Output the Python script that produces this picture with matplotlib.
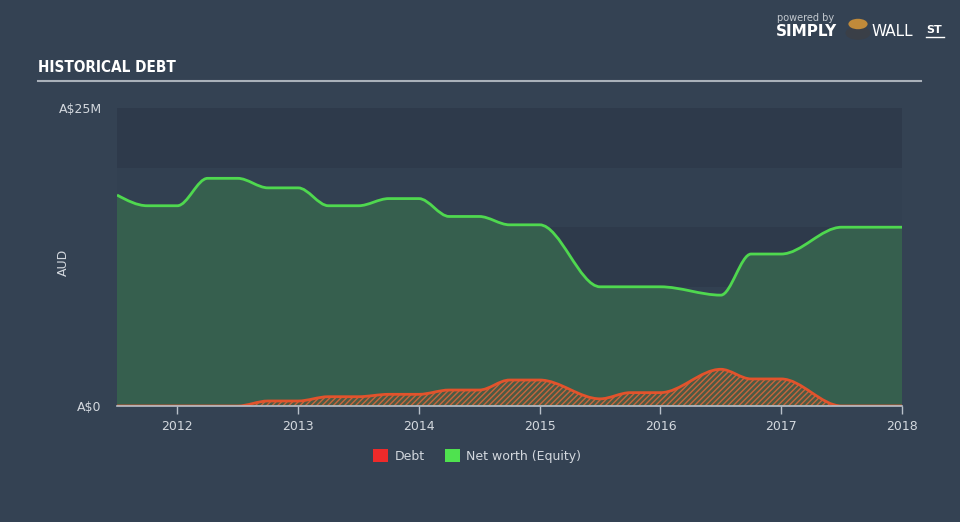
import matplotlib
matplotlib.use("Agg")
import numpy as np
from matplotlib import pyplot as plt
from matplotlib.path import Path
from matplotlib.patches import PathPatch, Patch, Circle

# quarterly points (A$ millions), x in fractional years
dates = [2011.5, 2011.75, 2012.0, 2012.25, 2012.5, 2012.75, 2013.0, 2013.25,
         2013.5, 2013.75, 2014.0, 2014.25, 2014.5, 2014.75, 2015.0, 2015.5,
         2015.75, 2016.0, 2016.5, 2016.75, 2017.0, 2017.5, 2018.0]
net_worth = [17.7, 16.8, 16.8, 19.1, 19.1, 18.3, 18.3, 16.8,
             16.8, 17.4, 17.4, 15.9, 15.9, 15.2, 15.2, 10.0,
             10.0, 10.0, 9.3, 12.75, 12.75, 15.0, 15.0]
debt = [0, 0, 0, 0, 0, 0.42, 0.42, 0.78,
        0.78, 0.98, 0.98, 1.34, 1.34, 2.18, 2.18, 0.6,
        1.12, 1.12, 3.08, 2.27, 2.27, 0, 0]
year_ticks = [2012, 2013, 2014, 2015, 2016, 2017, 2018]

BG = '#344253'
TXT = '#d3d8de'


def monotone_path(xs, ys, close_to=None):
    # same bezier segments a monotoneX curve uses
    xs = np.asarray(xs, float)
    ys = np.asarray(ys, float)
    n = len(xs)
    h = np.diff(xs)
    s = np.diff(ys) / h
    t = np.zeros(n)
    for i in range(1, n - 1):
        p = (s[i - 1] * h[i] + s[i] * h[i - 1]) / (h[i - 1] + h[i])
        t[i] = (np.sign(s[i - 1]) + np.sign(s[i])) * min(abs(s[i - 1]), abs(s[i]), 0.5 * abs(p))
    t[0] = (3 * s[0] - t[1]) / 2
    t[-1] = (3 * s[-1] - t[-2]) / 2
    verts = [(xs[0], ys[0])]
    codes = [Path.MOVETO]
    for i in range(n - 1):
        dx = h[i] / 3
        verts += [(xs[i] + dx, ys[i] + dx * t[i]),
                  (xs[i + 1] - dx, ys[i + 1] - dx * t[i + 1]),
                  (xs[i + 1], ys[i + 1])]
        codes += [Path.CURVE4] * 3
    if close_to is not None:
        verts += [(xs[-1], close_to), (xs[0], close_to), (xs[0], ys[0])]
        codes += [Path.LINETO, Path.LINETO, Path.CLOSEPOLY]
    return Path(verts, codes)


plt.rcParams['hatch.linewidth'] = 1.0
fig = plt.figure(figsize=(9.6, 5.22), dpi=100)
fig.patch.set_facecolor(BG)
ax = fig.add_axes([117 / 960, 1 - 406 / 522, 785 / 960, 298 / 522])
ax.set_facecolor('#303d4e')
ax.set_xlim(dates[0], dates[-1])
ax.set_ylim(0, 25)

# faint horizontal bands, alternating from the top
band_cols = ['#2e3a4b', '#324051', '#2e3a4b', '#324051', '#2e3a4b']
for k, c in enumerate(band_cols):
    ax.axhspan(k * 5, k * 5 + 5, color=c, lw=0, zorder=0)

# net worth area + line
ax.add_patch(PathPatch(monotone_path(dates, net_worth, close_to=0),
                       facecolor='#365f4e', edgecolor='none', zorder=1))
ax.add_patch(PathPatch(monotone_path(dates, net_worth), facecolor='none',
                       edgecolor='#4fd84f', lw=2, zorder=3))

# debt hatched area + line
ax.add_patch(PathPatch(monotone_path(dates, debt, close_to=0),
                       facecolor='#4c5a44', edgecolor='#c8653c', lw=0,
                       hatch='//////', zorder=2))
ax.add_patch(PathPatch(monotone_path(dates, debt), facecolor='none',
                       edgecolor='#e2532c', lw=2, zorder=4))

for sp in ['top', 'right', 'left']:
    ax.spines[sp].set_visible(False)
ax.spines['bottom'].set_color('#b8c0c9')
ax.spines['bottom'].set_linewidth(1.2)
ax.spines['bottom'].set_zorder(5)

ax.set_xticks(year_ticks)
ax.set_xticklabels([str(y) for y in year_ticks])
ax.set_yticks([0, 25])
ax.set_yticklabels(['A$0', 'A$25M'])
ax.tick_params(axis='x', colors='#b8c0c9', length=6, width=1, labelsize=9,
               labelcolor=TXT, pad=4)
ax.tick_params(axis='y', length=0, labelsize=9, labelcolor=TXT, pad=11)
fig.text(63 / 960, 1 - 262 / 522, 'AUD', color=TXT, fontsize=9, rotation=90,
         va='center', ha='center')

# title and rule
fig.text(38 / 960, 1 - 68 / 522, 'HISTORICAL DEBT', color='white', fontsize=11,
         fontweight='bold', family='DejaVu Sans', fontstretch='condensed',
         va='center', ha='left')
fig.add_artist(plt.Line2D([38 / 960, 921 / 960], [1 - 81 / 522, 1 - 81 / 522],
                          color='#a9b1ba', lw=1.5))

# logo
fig.text(777 / 960, 1 - 18 / 522, 'powered by', color='#c3c9cf', fontsize=7,
         va='center', ha='left')
fig.text(776 / 960, 1 - 31 / 522, 'SIMPLY', color='white', fontsize=11,
         fontweight='bold', va='center', ha='left')
fig.add_artist(Circle((858 / 960, 1 - 33 / 522), 0.013, transform=fig.transFigure,
                      facecolor='#3a3f47', edgecolor='none'))
fig.add_artist(Circle((858 / 960, 1 - 24 / 522), 0.010, transform=fig.transFigure,
                      facecolor='#c08a3a', edgecolor='none'))
fig.text(872 / 960, 1 - 31 / 522, 'WALL', color='white', fontsize=11,
         va='center', ha='left')
fig.text(926 / 960, 1 - 30 / 522, 'ST', color='white', fontsize=8,
         fontweight='bold', va='center', ha='left')
fig.add_artist(plt.Line2D([926 / 960, 944 / 960], [1 - 37 / 522, 1 - 37 / 522],
                          color='white', lw=1))

# legend
handles = [Patch(facecolor='#ee2a2a', edgecolor='none', label='Debt'),
           Patch(facecolor='#4fe24f', edgecolor='none', label='Net worth (Equity)')]
leg = fig.legend(handles=handles, loc='center', bbox_to_anchor=(477 / 960, 1 - 456 / 522),
                 ncol=2, frameon=False, fontsize=9, handlelength=1.2, handleheight=1.2,
                 handletextpad=0.5, columnspacing=1.6)
for t in leg.get_texts():
    t.set_color(TXT)

fig.savefig('out.png', dpi=100, facecolor=BG)
